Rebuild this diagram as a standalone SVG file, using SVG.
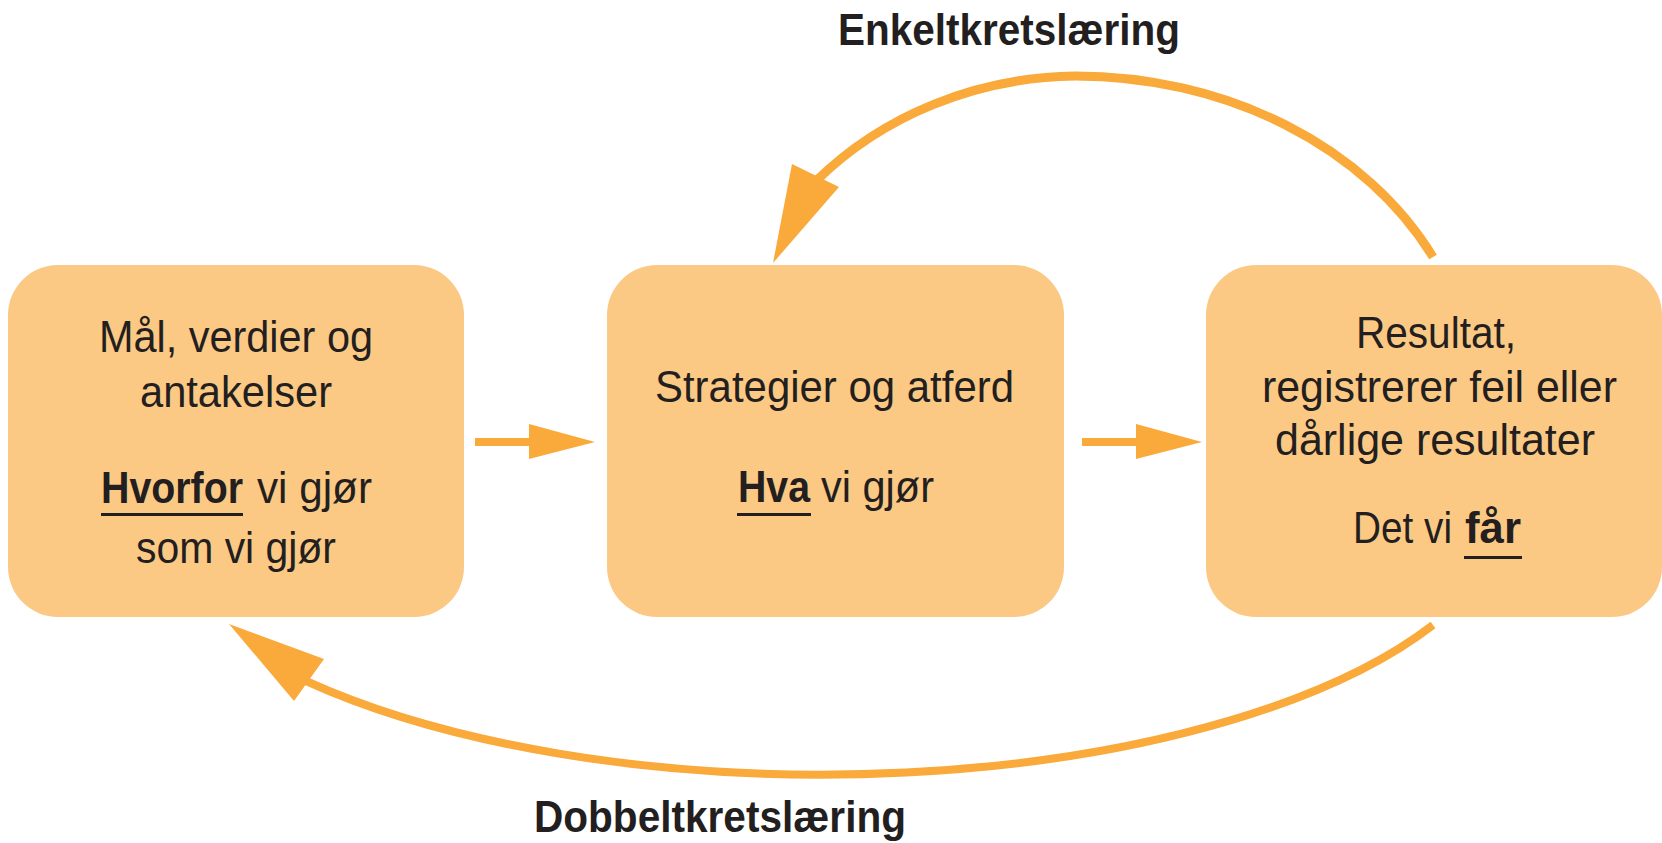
<svg xmlns="http://www.w3.org/2000/svg" width="1662" height="843" viewBox="0 0 1662 843">
<style>
.box{fill:#FCC984;}
.t{font-family:"Liberation Sans","Noto Sans",Arial,sans-serif;font-size:45px;fill:#231F20;}
.b{font-weight:bold;}
.lbl{font-family:"Liberation Sans","Noto Sans",Arial,sans-serif;font-size:44px;font-weight:bold;fill:#231F20;}
.ul{fill:#231F20;}
.conn{fill:none;stroke:#F9AA3A;}
.head{fill:#F9AA3A;}
</style>
<rect width="1662" height="843" fill="#ffffff"/>
<g id="connectors">
  <line class="conn" x1="475" y1="442" x2="532" y2="442" stroke-width="8"/>
  <polygon class="head" points="529,424 595,442 529,459"/>
  <line class="conn" x1="1082" y1="442" x2="1139" y2="442" stroke-width="8"/>
  <polygon class="head" points="1136,424 1202,442 1136,459"/>
  <path class="conn" stroke-width="9" d="M1433,257 A400,327 0 0 0 1075,76 A360,327 0 0 0 816,181"/>
  <polygon class="head" points="773,263 792,164 839,187"/>
  <path class="conn" stroke-width="8" d="M1433,625 A690,279 0 0 1 306,681"/>
  <polygon class="head" points="229,624 324,659 294,701"/>
</g>
<g id="label-enkelt">
  <text class="lbl" x="838" y="45" textLength="342" lengthAdjust="spacingAndGlyphs">Enkeltkretslæring</text>
</g>
<g id="label-dobbelt">
  <text class="lbl" x="534" y="832" textLength="372" lengthAdjust="spacingAndGlyphs">Dobbeltkretslæring</text>
</g>
<g id="node-maal">
  <rect class="box" x="8" y="265" width="456" height="352" rx="50" ry="50"/>
  <text class="t" x="99" y="352" textLength="274" lengthAdjust="spacingAndGlyphs">Mål, verdier og</text>
  <text class="t" x="140" y="407" textLength="192" lengthAdjust="spacingAndGlyphs">antakelser</text>
  <text class="t b" x="101" y="503" textLength="142" lengthAdjust="spacingAndGlyphs">Hvorfor</text>
  <rect class="ul" x="101" y="513" width="142" height="3"/>
  <text class="t" x="257" y="503" textLength="115" lengthAdjust="spacingAndGlyphs">vi gjør</text>
  <text class="t" x="136" y="563" textLength="200" lengthAdjust="spacingAndGlyphs">som vi gjør</text>
</g>
<g id="node-strategier">
  <rect class="box" x="607" y="265" width="457" height="352" rx="50" ry="50"/>
  <text class="t" x="655" y="402" textLength="359" lengthAdjust="spacingAndGlyphs">Strategier og atferd</text>
  <text class="t b" x="738" y="502" textLength="72" lengthAdjust="spacingAndGlyphs">Hva</text>
  <rect class="ul" x="737" y="513" width="74" height="3"/>
  <text class="t" x="821" y="502" textLength="113" lengthAdjust="spacingAndGlyphs">vi gjør</text>
</g>
<g id="node-resultat">
  <rect class="box" x="1206" y="265" width="456" height="352" rx="50" ry="50"/>
  <text class="t" x="1356" y="348" textLength="160" lengthAdjust="spacingAndGlyphs">Resultat,</text>
  <text class="t" x="1262" y="402" textLength="355" lengthAdjust="spacingAndGlyphs">registrerer feil eller</text>
  <text class="t" x="1275" y="455" textLength="320" lengthAdjust="spacingAndGlyphs">dårlige resultater</text>
  <text class="t" x="1353" y="543" textLength="99" lengthAdjust="spacingAndGlyphs">Det vi</text>
  <text class="t b" x="1465" y="543" textLength="56" lengthAdjust="spacingAndGlyphs">får</text>
  <rect class="ul" x="1464" y="556" width="58" height="3"/>
</g>
</svg>
